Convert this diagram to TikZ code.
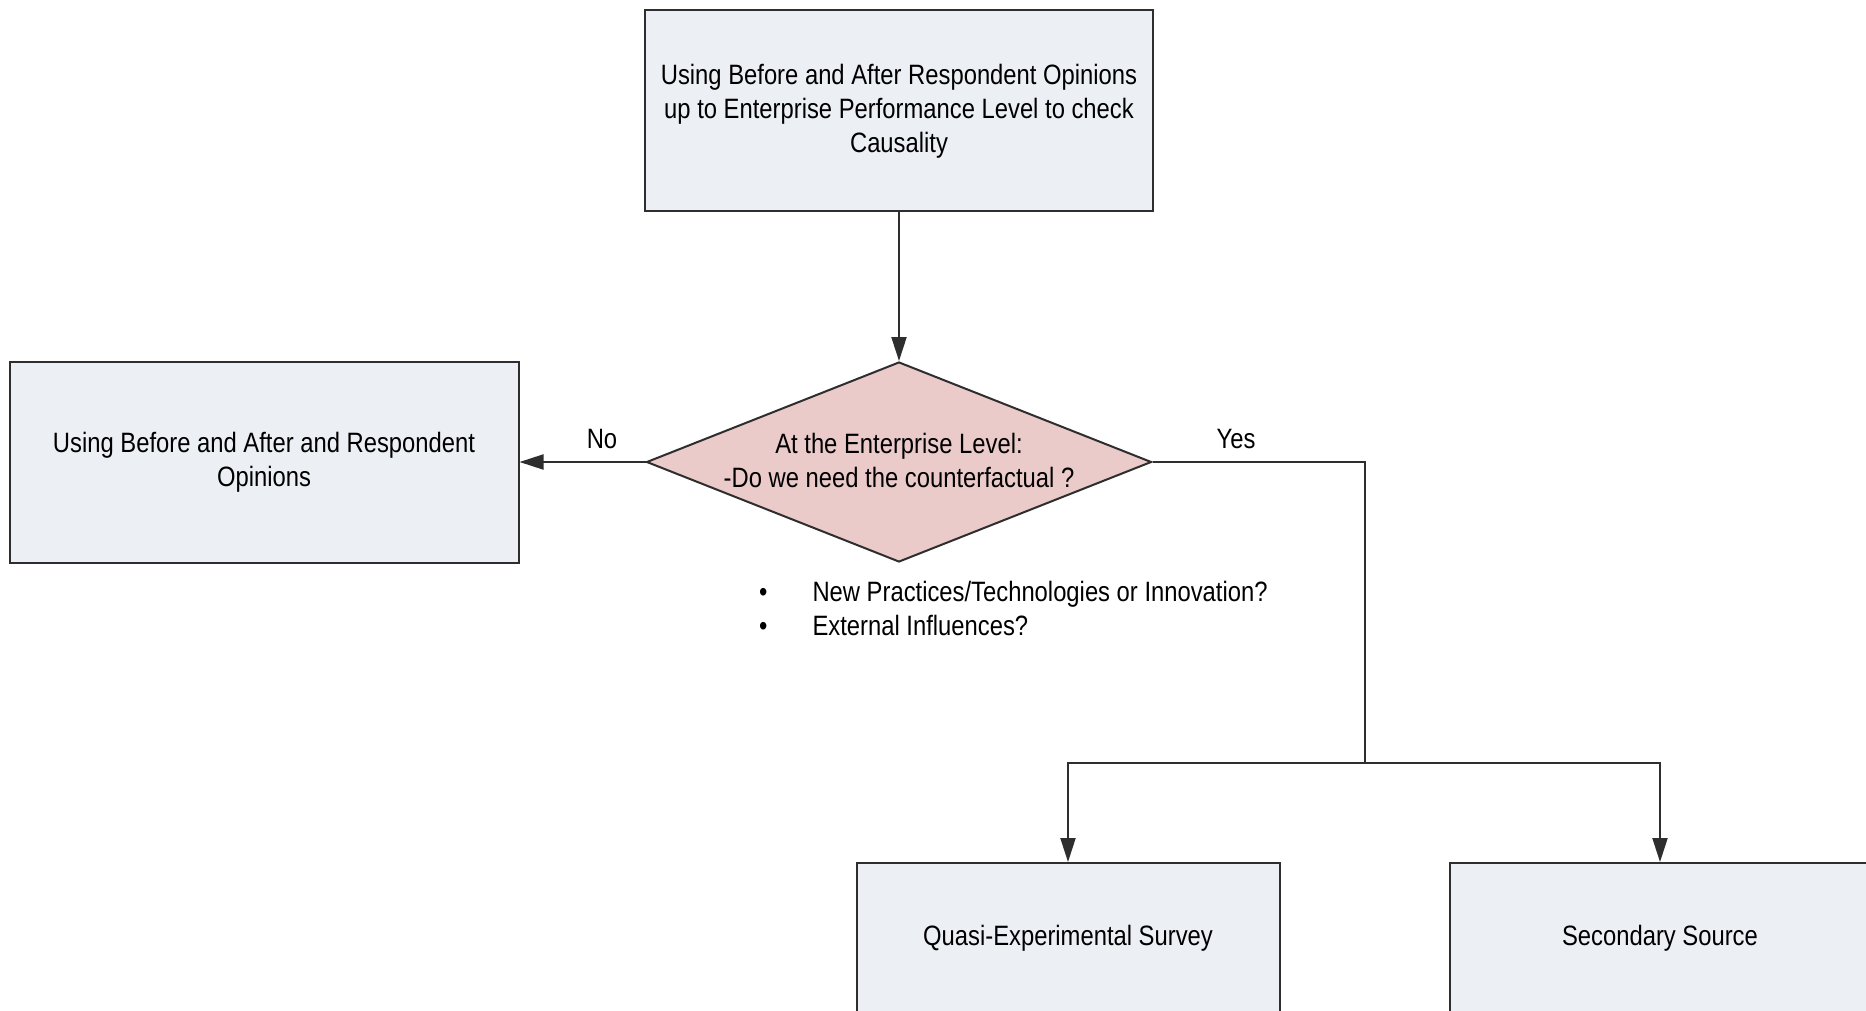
\documentclass[tikz,border=0pt]{standalone}
\usepackage{fontspec}
\setmainfont[FakeStretch=0.85]{Liberation Sans}
\usetikzlibrary{shapes.geometric,arrows.meta}
\definecolor{boxfill}{HTML}{ECEFF4}
\definecolor{decfill}{HTML}{EBCACA}
\definecolor{edge}{HTML}{2E2E2E}
\begin{document}
\begin{tikzpicture}[x=1pt,y=-1pt,
  font=\fontsize{28}{34}\selectfont,
  procbox/.style={draw=edge,line width=2pt,fill=boxfill,rectangle,
    align=center,inner sep=0pt},
  decision/.style={draw=edge,line width=2pt,fill=decfill,diamond,
    align=center,inner sep=0pt},
  link/.style={draw=edge,line width=2pt,-{Triangle[length=24pt,width=15pt]}},
  plain/.style={draw=edge,line width=2pt},
  tag/.style={inner sep=0pt,align=center}]
\useasboundingbox (0,0) rectangle (1866,1011);
\clip (0,0) rectangle (1866,1011);
\fill[white] (0,0) rectangle (1866,1011);

% process boxes and decision
\node[procbox,minimum width=508pt,minimum height=201pt] (top) at (899,111)
  {Using Before and After Respondent Opinions\\up to Enterprise Performance Level to check\\Causality};
\node[decision,minimum width=505pt,minimum height=200pt,aspect=2.525] (dec) at (899,462) {};
\node[tag] (dectext) at (899,460) {At the Enterprise Level:\\-Do we need the counterfactual ?};
\node[procbox,minimum width=509pt,minimum height=201pt] (left) at (264,462)
  {Using Before and After and Respondent\\Opinions};
\node[procbox,minimum width=423pt,minimum height=150pt] (quasi) at (1068,938)
  {Quasi-Experimental Survey};
\node[procbox,minimum width=420pt,minimum height=150pt] (second) at (1660,938)
  {Secondary Source};

% notes under the decision
\node[tag,anchor=west,align=left] (notes) at (759,612)
  {\begin{tabular}{@{}l@{\hspace{45pt}}l@{}}
   • & New Practices/Technologies or Innovation?\\
   • & External Influences?
   \end{tabular}};

% branch labels
\node[tag] (no) at (602,439) {No};
\node[tag] (yes) at (1236,439) {Yes};

% connectors
\coordinate (corner) at (1365,462);
\coordinate (split) at (1365,763);
\coordinate (splitL) at (quasi.north |- split);
\coordinate (splitR) at (second.north |- split);
\draw[link] (top.south) -- (dec.north);
\draw[link] (dec.west) -- (left.east);
\draw[plain] (dec.east) -- (corner) -- (split);
\draw[link] (split) -- (splitL) -- (quasi.north);
\draw[link] (split) -- (splitR) -- (second.north);
\end{tikzpicture}
\end{document}
